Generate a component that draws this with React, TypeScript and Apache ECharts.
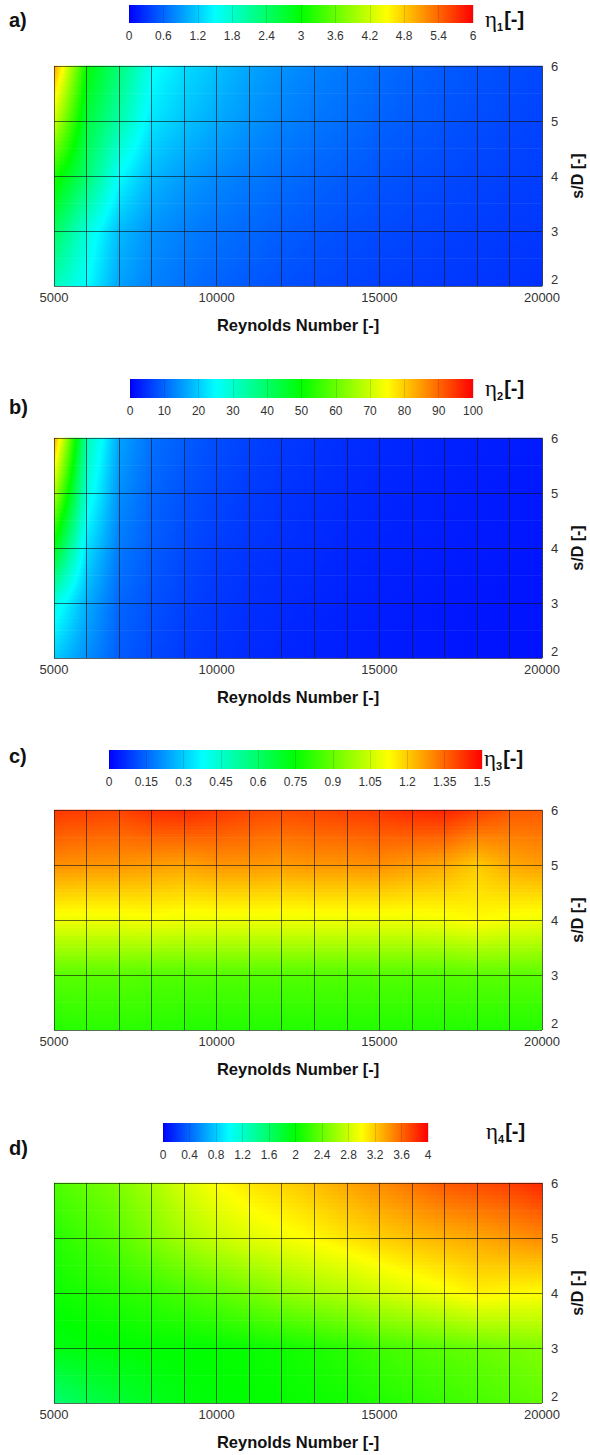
import React, { useEffect, useRef } from "react";
import * as echarts from "echarts";

// ---------------- data ----------------
const RE = [5000, 6000, 7000, 8000, 9000, 10000, 11000, 12000, 13000, 14000, 15000, 16000, 17000, 18000, 19000, 20000];
const SD = [2, 3, 4, 5, 6];
const X_TICK_LABELS = [5000, 10000, 15000, 20000];

// rows: s/D = 2, 3, 4, 5, 6 ; columns: RE
const ETA1 = [
  [1.9, 1.5, 0.95, 0.76, 0.66, 0.58, 0.52, 0.47, 0.43, 0.4, 0.37, 0.35, 0.33, 0.31, 0.3, 0.28],
  [2.45, 1.7, 1.1, 0.86, 0.75, 0.67, 0.61, 0.55, 0.5, 0.46, 0.43, 0.4, 0.38, 0.36, 0.34, 0.32],
  [3.15, 2.35, 1.5, 1.08, 0.92, 0.8, 0.72, 0.65, 0.59, 0.54, 0.5, 0.46, 0.43, 0.4, 0.38, 0.36],
  [4.2, 2.65, 2.0, 1.35, 1.15, 1.0, 0.87, 0.77, 0.7, 0.64, 0.58, 0.53, 0.49, 0.45, 0.42, 0.39],
  [5.05, 3.0, 2.3, 1.55, 1.3, 1.13, 0.97, 0.86, 0.77, 0.7, 0.64, 0.58, 0.53, 0.49, 0.45, 0.42],
];
const ETA2 = [
  [20, 14, 9, 7, 5.6, 4.8, 4.1, 3.6, 3.2, 2.9, 2.6, 2.4, 2.2, 2.0, 1.8, 1.7],
  [28, 17, 10, 8, 6.4, 5.4, 4.6, 4.1, 3.6, 3.2, 2.9, 2.6, 2.4, 2.2, 2.0, 1.9],
  [48, 22, 12, 9, 7.2, 6.0, 5.2, 4.6, 4.1, 3.6, 3.3, 3.0, 2.7, 2.5, 2.3, 2.1],
  [67, 28, 14, 10, 8, 6.8, 5.8, 5.1, 4.5, 4.0, 3.6, 3.3, 3.0, 2.7, 2.5, 2.3],
  [84, 33, 16, 11, 9, 7.5, 6.4, 5.6, 5.0, 4.4, 4.0, 3.6, 3.3, 3.0, 2.8, 2.6],
];
const ETA3 = [
  [0.8, 0.81, 0.81, 0.81, 0.8, 0.8, 0.8, 0.8, 0.8, 0.8, 0.8, 0.8, 0.8, 0.8, 0.8, 0.8],
  [0.88, 0.88, 0.88, 0.87, 0.87, 0.87, 0.87, 0.87, 0.87, 0.87, 0.87, 0.87, 0.87, 0.88, 0.88, 0.88],
  [1.1, 1.1, 1.1, 1.11, 1.1, 1.1, 1.1, 1.1, 1.1, 1.1, 1.1, 1.1, 1.11, 1.13, 1.11, 1.1],
  [1.29, 1.28, 1.28, 1.27, 1.26, 1.28, 1.28, 1.27, 1.28, 1.28, 1.29, 1.27, 1.25, 1.2, 1.25, 1.27],
  [1.42, 1.41, 1.4, 1.43, 1.44, 1.42, 1.4, 1.39, 1.4, 1.41, 1.42, 1.44, 1.45, 1.41, 1.37, 1.37],
];
const ETA4 = [
  [1.55, 1.7, 1.8, 1.88, 1.95, 1.98, 2.0, 2.02, 2.04, 2.07, 2.12, 2.17, 2.22, 2.27, 2.32, 2.38],
  [1.93, 1.96, 1.98, 2.0, 2.0, 2.01, 2.03, 2.06, 2.1, 2.17, 2.25, 2.3, 2.35, 2.4, 2.45, 2.5],
  [2.05, 2.1, 2.15, 2.2, 2.28, 2.36, 2.45, 2.55, 2.63, 2.7, 2.8, 2.88, 2.96, 3.05, 3.02, 3.0],
  [2.15, 2.25, 2.35, 2.5, 2.65, 2.78, 2.88, 2.95, 3.02, 3.1, 3.18, 3.25, 3.3, 3.34, 3.4, 3.46],
  [2.3, 2.4, 2.5, 2.65, 2.85, 3.0, 3.1, 3.17, 3.25, 3.35, 3.45, 3.55, 3.65, 3.7, 3.75, 3.85],
];

// colour-bar scales: [min, max, interval]
const CBAR1 = [0, 6, 0.6];
const CBAR2 = [0, 100, 10];
const CBAR3 = [0, 1.5, 0.15];
const CBAR4 = [0, 4, 0.4];

const LETTERS = ["a)", "b)", "c)", "d)"];
const SUBSCRIPTS = ["1", "2", "3", "4"];

// ---------------- styling / layout ----------------
const FONT = "'Liberation Sans', Arial, Helvetica, sans-serif";
const PLOT_LEFT = 54;
const PLOT_WIDTH = 488;
const PLOT_HEIGHT = 220;
const LAYOUT = [
  { plotTop: 66, cb: { left: 129, top: 5, width: 344, height: 18 }, letterY: 21, etaX: 485, etaY: 19 },
  { plotTop: 438, cb: { left: 130, top: 379, width: 343, height: 19 }, letterY: 408, etaX: 485, etaY: 388 },
  { plotTop: 810, cb: { left: 109, top: 750, width: 373, height: 19 }, letterY: 757, etaX: 484, etaY: 758 },
  { plotTop: 1183, cb: { left: 163, top: 1123, width: 265, height: 19 }, letterY: 1149, etaX: 486, etaY: 1131 },
];
const STRIPS = 14;

const JET: [number, number[]][] = [
  [0, [0, 0, 255]],
  [0.25, [0, 255, 255]],
  [0.5, [0, 255, 0]],
  [0.75, [255, 255, 0]],
  [1, [255, 0, 0]],
];

function colorAt(f: number): string {
  const t = Math.max(0, Math.min(1, f));
  for (let k = 0; k < JET.length - 1; k++) {
    const [a, ca] = JET[k];
    const [b, cb] = JET[k + 1];
    if (t <= b) {
      const u = (t - a) / (b - a);
      const c = ca.map((v, i) => Math.round(v + (cb[i] - v) * u));
      return `rgb(${c[0]},${c[1]},${c[2]})`;
    }
  }
  return "rgb(255,0,0)";
}

function stripFill(vL: number, vR: number, min: number, max: number): any {
  const fL = Math.max(0, Math.min(1, (vL - min) / (max - min)));
  const fR = Math.max(0, Math.min(1, (vR - min) / (max - min)));
  if (Math.abs(fR - fL) < 1e-6) return colorAt(fL);
  const stops: { offset: number; color: string }[] = [];
  for (const [b] of JET) {
    if (b > Math.min(fL, fR) && b < Math.max(fL, fR)) {
      stops.push({ offset: (b - fL) / (fR - fL), color: colorAt(b) });
    }
  }
  stops.sort((p, q) => p.offset - q.offset);
  return new echarts.graphic.LinearGradient(0, 0, 1, 0, [
    { offset: 0, color: colorAt(fL) },
    ...stops,
    { offset: 1, color: colorAt(fR) },
  ]);
}

function cellsFor(values: number[][]) {
  const out: number[][] = [];
  for (let j = 0; j < SD.length - 1; j++) {
    for (let i = 0; i < RE.length - 1; i++) {
      out.push([RE[i], RE[i + 1], SD[j], SD[j + 1], values[j][i], values[j][i + 1], values[j + 1][i], values[j + 1][i + 1]]);
    }
  }
  return out;
}

function contourRenderer(min: number, max: number) {
  return (params: any, api: any) => {
    const x0 = api.value(0), x1 = api.value(1), y0 = api.value(2), y1 = api.value(3);
    const v00 = api.value(4), v10 = api.value(5), v01 = api.value(6), v11 = api.value(7);
    const pA = api.coord([x0, y0]);
    const pB = api.coord([x1, y1]);
    const left = pA[0], right = pB[0], bottom = pA[1], top = pB[1];
    const h = (bottom - top) / STRIPS;
    const children: any[] = [];
    for (let k = 0; k < STRIPS; k++) {
      const t = (k + 0.5) / STRIPS;
      const vL = v00 + (v01 - v00) * t;
      const vR = v10 + (v11 - v10) * t;
      const y = bottom - (k + 1) * h;
      children.push({
        type: "rect",
        shape: { x: left, y: y - 0.35, width: right - left + 0.6, height: h + 0.7 },
        style: { fill: stripFill(vL, vR, min, max) },
        silent: true,
      });
    }
    return { type: "group", children };
  };
}

function colorbarRenderer() {
  return (params: any, api: any) => {
    const p0 = api.coord([api.value(0), 0]);
    const p1 = api.coord([api.value(1), 1]);
    return {
      type: "rect",
      shape: { x: p0[0], y: p1[1], width: p1[0] - p0[0], height: p0[1] - p1[1] },
      style: {
        fill: new echarts.graphic.LinearGradient(
          0, 0, 1, 0,
          JET.map(([o, c]) => ({ offset: o, color: `rgb(${c[0]},${c[1]},${c[2]})` }))
        ),
      },
      silent: true,
    };
  };
}

const fmtNum = (v: number) => String(parseFloat(Number(v).toFixed(3)));

export default function App() {
  const ref = useRef<HTMLDivElement>(null);

  useEffect(() => {
    if (!ref.current) return;
    const chart = echarts.init(ref.current, null, { renderer: "svg" });

    const fields = [ETA1, ETA2, ETA3, ETA4];
    const bars = [CBAR1, CBAR2, CBAR3, CBAR4];

    const grid: any[] = [];
    const xAxis: any[] = [];
    const yAxis: any[] = [];
    const series: any[] = [];
    const graphic: any[] = [];

    // plot grids
    LAYOUT.forEach((L, p) => {
      grid.push({ left: PLOT_LEFT, top: L.plotTop, width: PLOT_WIDTH, height: PLOT_HEIGHT, outerBoundsMode: "none" });
      xAxis.push({
        type: "value",
        gridIndex: p,
        min: RE[0],
        max: RE[RE.length - 1],
        interval: 1000,
        z: 10,
        axisLine: { show: false },
        axisTick: { show: false },
        splitLine: { show: true, lineStyle: { color: "rgba(20,20,20,0.62)", width: 1 } },
        axisLabel: {
          fontFamily: FONT,
          fontSize: 13,
          color: "#333",
          margin: 5,
          formatter: (v: number) => (X_TICK_LABELS.includes(v) ? String(v) : ""),
        },
        name: "Reynolds Number [-]",
        nameLocation: "middle",
        nameGap: 30,
        nameTextStyle: { fontFamily: FONT, fontWeight: "bold", fontSize: 16.5, color: "#111" },
      });
      yAxis.push({
        type: "value",
        gridIndex: p,
        position: "right",
        min: SD[0],
        max: SD[SD.length - 1],
        interval: 1,
        z: 10,
        axisLine: { show: false },
        axisTick: { show: false },
        splitLine: { show: true, lineStyle: { color: "rgba(20,20,20,0.62)", width: 1 } },
        axisLabel: {
          fontFamily: FONT,
          fontSize: 13,
          color: "#333",
          margin: 9,
          formatter: (v: number) => (v === SD[0] ? `{lo|${v}}` : String(v)),
          rich: { lo: { fontFamily: FONT, fontSize: 13, color: "#333", padding: [0, 0, 13, 0] } },
        },
        name: "s/D [-]",
        nameLocation: "middle",
        nameGap: 27,
        nameTextStyle: { fontFamily: FONT, fontWeight: "bold", fontSize: 16, color: "#111" },
      });
      const [mn, mx] = bars[p];
      series.push({
        type: "custom",
        coordinateSystem: "cartesian2d",
        xAxisIndex: p,
        yAxisIndex: p,
        data: cellsFor(fields[p]),
        encode: { x: [0, 1], y: [2, 3] },
        renderItem: contourRenderer(mn, mx),
        z: 1,
        silent: true,
      });
    });

    // colour bars
    LAYOUT.forEach((L, p) => {
      const gi = 4 + p;
      const [mn, mx, step] = bars[p];
      grid.push({ left: L.cb.left, top: L.cb.top, width: L.cb.width, height: L.cb.height, outerBoundsMode: "none" });
      xAxis.push({
        type: "value",
        gridIndex: gi,
        min: mn,
        max: mx,
        interval: step,
        z: 10,
        axisLine: { show: false },
        axisTick: { show: false },
        splitLine: { show: true, lineStyle: { color: "rgba(0,0,0,0.13)", width: 1 } },
        axisLabel: { fontFamily: FONT, fontSize: 12, color: "#333", margin: 7, formatter: fmtNum },
      });
      yAxis.push({ type: "value", gridIndex: gi, min: 0, max: 1, show: false });
      series.push({
        type: "custom",
        coordinateSystem: "cartesian2d",
        xAxisIndex: gi,
        yAxisIndex: gi,
        data: [[mn, mx]],
        encode: { x: [0, 1] },
        renderItem: colorbarRenderer(),
        z: 1,
        silent: true,
      });

      graphic.push({
        type: "text",
        left: 9,
        top: L.letterY - 11,
        style: { text: LETTERS[p], fontFamily: FONT, fontWeight: "bold", fontSize: 20, fill: "#111" },
      });
      graphic.push({
        type: "text",
        x: L.etaX,
        y: L.etaY,
        style: {
          text: `{e|η}{s|${SUBSCRIPTS[p]}}{b|[-]}`,
          verticalAlign: "middle",
          rich: {
            e: { fontFamily: "'Liberation Serif', 'DejaVu Serif', serif", fontSize: 23, fill: "#111", lineHeight: 26 },
            s: { fontFamily: FONT, fontWeight: "bold", fontSize: 11, fill: "#111", lineHeight: 26, verticalAlign: "bottom", padding: [0, 1, 0, 0] },
            b: { fontFamily: FONT, fontWeight: "bold", fontSize: 20, fill: "#111", lineHeight: 26 },
          },
        },
      });
    });

    chart.setOption({
      animation: false,
      backgroundColor: "#ffffff",
      grid,
      xAxis,
      yAxis,
      series,
      graphic,
    });

    return () => chart.dispose();
  }, []);

  return (
    <div
      ref={ref}
      style={{ position: "absolute", left: 0, top: 0, width: 590, height: 1455, background: "#fff" }}
    />
  );
}
